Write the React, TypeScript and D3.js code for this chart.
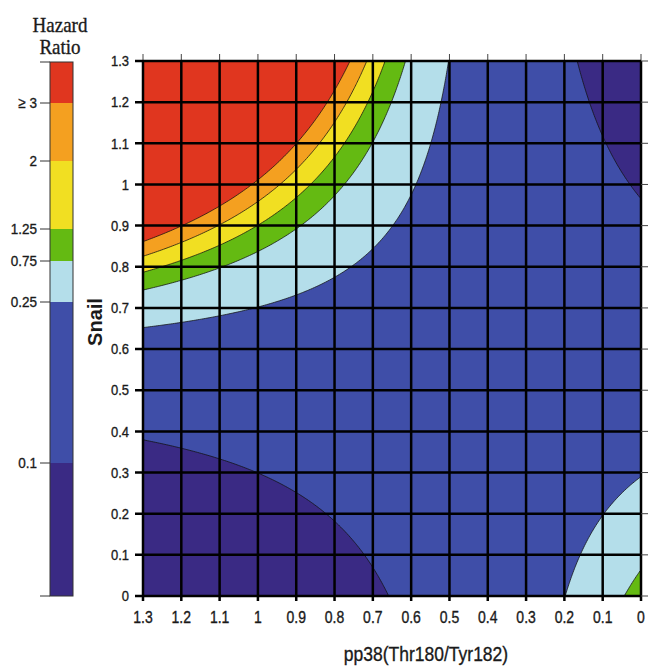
import React from "react";
import * as d3 from "d3";

// pp38 runs from 1.3 down to 0 (left to right)
const xTicks = [1.3, 1.2, 1.1, 1, 0.9, 0.8, 0.7, 0.6, 0.5, 0.4, 0.3, 0.2, 0.1, 0];
const yTicks = [0, 0.1, 0.2, 0.3, 0.4, 0.5, 0.6, 0.7, 0.8, 0.9, 1, 1.1, 1.2, 1.3];

// hazard ratio classes, low to high
const hrBreaks = ["0.1", "0.25", "0.75", "1.25", "2", "\u2265 3"];
const hrColors = ["#3a2a84", "#3f4ea8", "#b4deea", "#64ba12", "#f1df22", "#f4a020", "#e0361f"];

// contours are hyperbolas round a saddle point [pp38, Snail]
const saddle = [0.374, 0.548];
// value of (pp38 - x0) * (Snail - y0) at which each break sits
const breakLevels = [-0.156, 0.0965, 0.181, 0.221, 0.257, 0.29];

// share of the colour bar used by each class (legend is not to scale)
const legendShares = [133, 161, 41, 32, 68, 58, 41];

const sans = "Liberation Sans, Arial, sans-serif";
const serif = "Liberation Serif, Times New Roman, serif";

const Label = ({ x, y, anchor = "middle", size = 13, weight = "normal", family = sans, children }: any) => (
  <text
    transform={`translate(${x},${y}) scale(1,1.15)`}
    textAnchor={anchor}
    dy="0.35em"
    fontSize={size}
    fontWeight={weight}
    fontFamily={family}
    fill="#1a1a1a"
    stroke="#1a1a1a"
    strokeWidth={0.3}
  >
    {children}
  </text>
);

export default function App() {
  const width = 650;
  const height = 666;
  const x = d3.scaleLinear().domain([1.3, 0]).range([143, 641]);
  const y = d3.scaleLinear().domain([0, 1.3]).range([596, 61]);

  // sample the surface on a fine grid for d3.contours
  const n = 260;
  const values: number[] = new Array(n * n);
  for (let j = 0; j < n; j++) {
    for (let i = 0; i < n; i++) {
      const vx = ((i + 0.5) / n) * 1.3;
      const vy = ((j + 0.5) / n) * 1.3;
      values[j * n + i] = (vx - saddle[0]) * (vy - saddle[1]);
    }
  }
  const contours = d3.contours().size([n, n]).thresholds(breakLevels)(values);
  const path = d3.geoPath(
    d3.geoTransform({
      point: function (px: number, py: number) {
        this.stream.point(x((px / n) * 1.3), y((py / n) * 1.3));
      },
    })
  );

  // legend bar
  const cum = [0];
  legendShares.forEach((s) => cum.push(cum[cum.length - 1] + s));
  const ly = d3.scaleLinear().domain([0, cum[cum.length - 1]]).range([596, 62]);
  const barX = 50;
  const barW = 23;

  const [x0, x1] = x.range();
  const [y0, y1] = y.range();

  return (
    <svg
      width={width}
      height={height}
      style={{ position: "absolute", left: 0, top: 0, background: "#fff" }}
    >
      {/* legend */}
      <Label x={60} y={24} size={19} family={serif}>Hazard</Label>
      <Label x={60} y={46} size={19} family={serif}>Ratio</Label>
      {hrColors.map((c, k) => (
        <rect key={c} x={barX} y={ly(cum[k + 1])} width={barW} height={ly(cum[k]) - ly(cum[k + 1])} fill={c} />
      ))}
      <rect x={barX} y={ly(cum[cum.length - 1])} width={barW} height={ly(0) - ly(cum[cum.length - 1])} fill="none" stroke="#333" strokeWidth={1} />
      {hrBreaks.map((b, k) => (
        <g key={b}>
          <line x1={40} x2={barX} y1={ly(cum[k + 1])} y2={ly(cum[k + 1])} stroke="#333" strokeWidth={1} />
          <Label x={37} y={ly(cum[k + 1])} anchor="end" size={13.5}>{b}</Label>
        </g>
      ))}
      <line x1={40} x2={barX} y1={ly(0)} y2={ly(0)} stroke="#333" strokeWidth={1} />
      <line x1={40} x2={barX} y1={ly(cum[cum.length - 1])} y2={ly(cum[cum.length - 1])} stroke="#333" strokeWidth={1} />

      {/* filled contours */}
      <rect x={x0} y={y1} width={x1 - x0} height={y0 - y1} fill={hrColors[0]} />
      {contours.map((c, k) => (
        <path key={k} d={path(c as any) || ""} fill={hrColors[k + 1]} stroke="#111" strokeWidth={0.9} strokeOpacity={0.85} />
      ))}

      {/* grid */}
      {xTicks.map((t) => (
        <g key={"x" + t}>
          <line x1={x(t)} x2={x(t)} y1={y1} y2={y0 + 5} stroke="#000" strokeWidth={2.5} />
          <line x1={x(t)} x2={x(t)} y1={y1 - 7} y2={y1} stroke="#444" strokeWidth={1} />
          <Label x={x(t)} y={617.5} size={14}>{String(t)}</Label>
        </g>
      ))}
      {yTicks.map((t) => (
        <g key={"y" + t}>
          <line x1={x0 - 8} x2={x1} y1={y(t)} y2={y(t)} stroke="#000" strokeWidth={2.5} />
          <line x1={x1} x2={x1 + 7} y1={y(t)} y2={y(t)} stroke="#444" strokeWidth={1} />
          <Label x={129} y={y(t)} anchor="end" size={13}>{String(t)}</Label>
        </g>
      ))}

      {/* axis titles */}
      <Label x={426} y={654} size={17.5}>pp38(Thr180/Tyr182)</Label>
      <text
        transform="translate(95,322) rotate(-90)"
        textAnchor="middle"
        dy="0.35em"
        fontSize={20}
        fontWeight="bold"
        fontFamily={sans}
        fill="#1a1a1a"
      >
        Snail
      </text>
    </svg>
  );
}
